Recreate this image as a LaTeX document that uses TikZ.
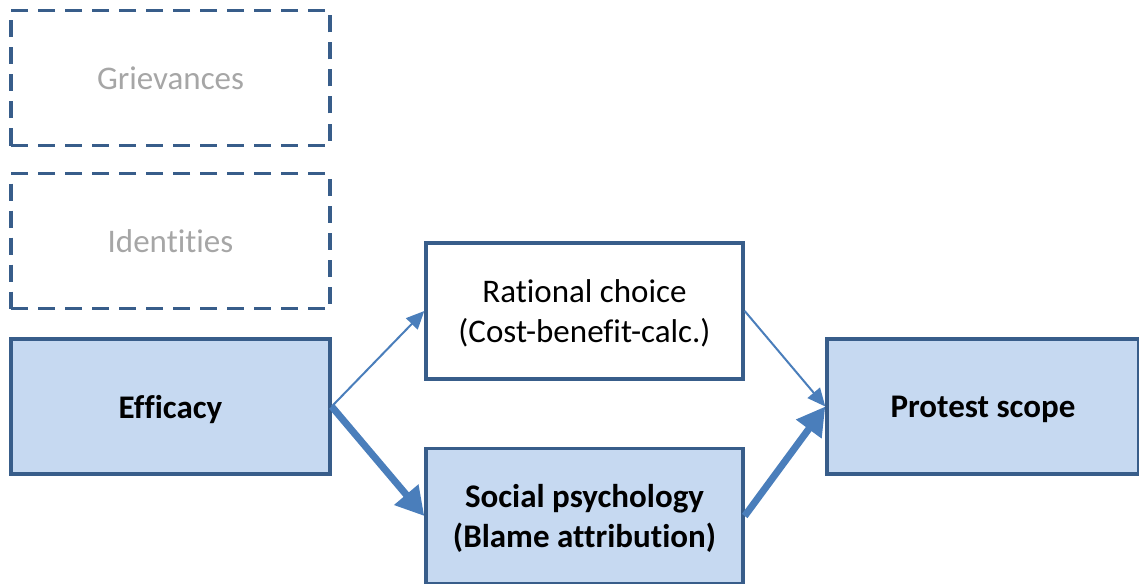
\documentclass[tikz,border=0pt]{standalone}
\usepackage{fontspec}
\setmainfont{Carlito}[Ligatures=NoCommon]
\usetikzlibrary{arrows.meta}
\definecolor{bordc}{HTML}{385D8A}
\definecolor{fillc}{HTML}{C6D9F1}
\definecolor{arrc}{HTML}{4A7EBB}
\definecolor{grayt}{HTML}{A6A6A6}
\tikzset{
  box/.style={draw=bordc, line width=3.4pt, rectangle, align=center,
    font=\fontsize{33}{40}\selectfont, inner sep=0pt, text depth=0pt},
  dbox/.style={box, dash pattern=on 17pt off 10pt, text=grayt,
    minimum width=319pt, minimum height=135pt},
  fbox/.style={box, fill=fillc, font=\fontsize{33}{40}\selectfont\bfseries},
  thinarr/.style={draw=arrc, line width=2pt,
    -{Triangle[length=18pt,width=16pt]}},
  thickarr/.style={draw=arrc, line width=7pt,
    -{Triangle[length=28pt,width=30pt]}}
}
\begin{document}
\begin{tikzpicture}[x=1pt,y=-1pt]
\useasboundingbox (0,0) rectangle (1139,583);
\clip (0,0) rectangle (1139,583);
\node[dbox] (griev) at (170.5,78) {Grievances};
\node[dbox] (ident) at (170.5,241) {Identities};
\node[fbox, minimum width=319pt, minimum height=135pt] (eff) at (170.5,406.5) {Efficacy};
\node[box, fill=white, minimum width=317pt, minimum height=136pt] (rat) at (584.5,311) {Rational choice\\(Cost-benefit-calc.)};
\node[fbox, minimum width=317pt, minimum height=135pt] (soc) at (584.5,516) {Social psychology\\(Blame attribution)};
\node[fbox, minimum width=312pt, minimum height=135pt] (prot) at (983,406.5) {Protest scope};
\draw[thinarr] (eff.east) -- (rat.west);
\draw[thickarr] (eff.east) -- (soc.west);
\draw[thinarr] (rat.east) -- (prot.west);
\draw[thickarr] (soc.east) -- (prot.west);
\end{tikzpicture}
\end{document}
